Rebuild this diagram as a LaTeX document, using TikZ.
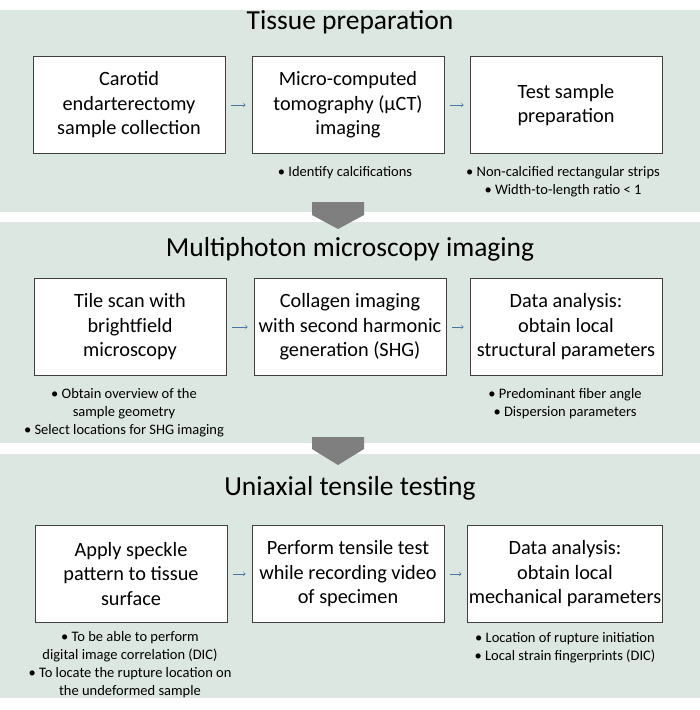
\documentclass[tikz,border=0pt]{standalone}
\usepackage{fontspec}
\setmainfont{Carlito}
\usetikzlibrary{positioning}
\definecolor{panelbg}{RGB}{221,231,225}
\definecolor{chevgray}{RGB}{127,127,127}
\definecolor{arrowblue}{RGB}{74,118,165}

\begin{document}
\begin{tikzpicture}[x=1pt, y=-1pt,
    etape/.style={draw=black!75, fill=white, line width=0.8pt, minimum width=192pt,
      minimum height=97pt, align=center, inner sep=1pt, font=\fontsize{20.3}{24.5}\selectfont},
    titre/.style={font=\fontsize{27.5}{32}\selectfont},
    puce/.style={align=center, font=\fontsize{14.5}{18}\selectfont},
    fleche/.style={->, arrowblue, line width=0.7pt, shorten <=6pt, shorten >=6pt}]
    \useasboundingbox (0,0) rectangle (700,710);

    % Bandeaux
    \fill[panelbg] (0,10) rectangle (700,212);
    \fill[panelbg] (0,222) rectangle (700,443);
    \fill[panelbg] (0,454) rectangle (700,698);

    % Chevrons
    \fill[chevgray] (312,202) -- (364,202) -- (364,215) -- (338,229) -- (312,215) -- cycle;
    \fill[chevgray] (312,437) -- (364,437) -- (364,449) -- (338,465) -- (312,449) -- cycle;

    % Tissue preparation
    \node[titre] (t1) at (350,22) {Tissue preparation};
    \node[etape] (b11) at (129,105) {Carotid\\endarterectomy\\sample collection};
    \node[etape] (b12) at (348,105) {Micro-computed\\tomography (µCT)\\imaging};
    \node[etape] (b13) at (566,105) {Test sample\\preparation};
    \draw[fleche] (b11) -- (b12);
    \draw[fleche] (b12) -- (b13);
    \node[puce] (p12) at (345,173) {• Identify calcifications};
    \node[puce] (p13) at (563,182) {• Non-calcified rectangular strips\\• Width-to-length ratio < 1};

    % Multiphoton microscopy imaging
    \node[titre] (t2) at (350,249) {Multiphoton microscopy imaging};
    \node[etape] (b21) at (130,327) {Tile scan with\\brightfield\\microscopy};
    \node[etape] (b22) at (350,327) {Collagen imaging\\with second harmonic\\generation (SHG)};
    \node[etape] (b23) at (566,327) {Data analysis:\\obtain local\\structural parameters};
    \draw[fleche] (b21) -- (b22);
    \draw[fleche] (b22) -- (b23);
    \node[puce] (p21) at (124,413) {• Obtain overview of the\\sample geometry\\• Select locations for SHG imaging};
    \node[puce] (p23) at (565,404) {• Predominant fiber angle\\• Dispersion parameters};

    % Uniaxial tensile testing
    \node[titre] (t3) at (350,488) {Uniaxial tensile testing};
    \node[etape] (b31) at (131,574) {Apply speckle\\pattern to tissue\\surface};
    \node[etape] (b32) at (348,574) {Perform tensile test\\while recording video\\of specimen};
    \node[etape] (b33) at (565,574) {Data analysis:\\obtain local\\mechanical parameters};
    \draw[fleche] (b31) -- (b32);
    \draw[fleche] (b32) -- (b33);
    \node[puce] (p31) at (130,665) {• To be able to perform\\digital image correlation (DIC)\\• To locate the rupture location on\\the undeformed sample};
    \node[puce] (p33) at (565,648) {• Location of rupture initiation\\• Local strain fingerprints (DIC)};
\end{tikzpicture}
\end{document}
